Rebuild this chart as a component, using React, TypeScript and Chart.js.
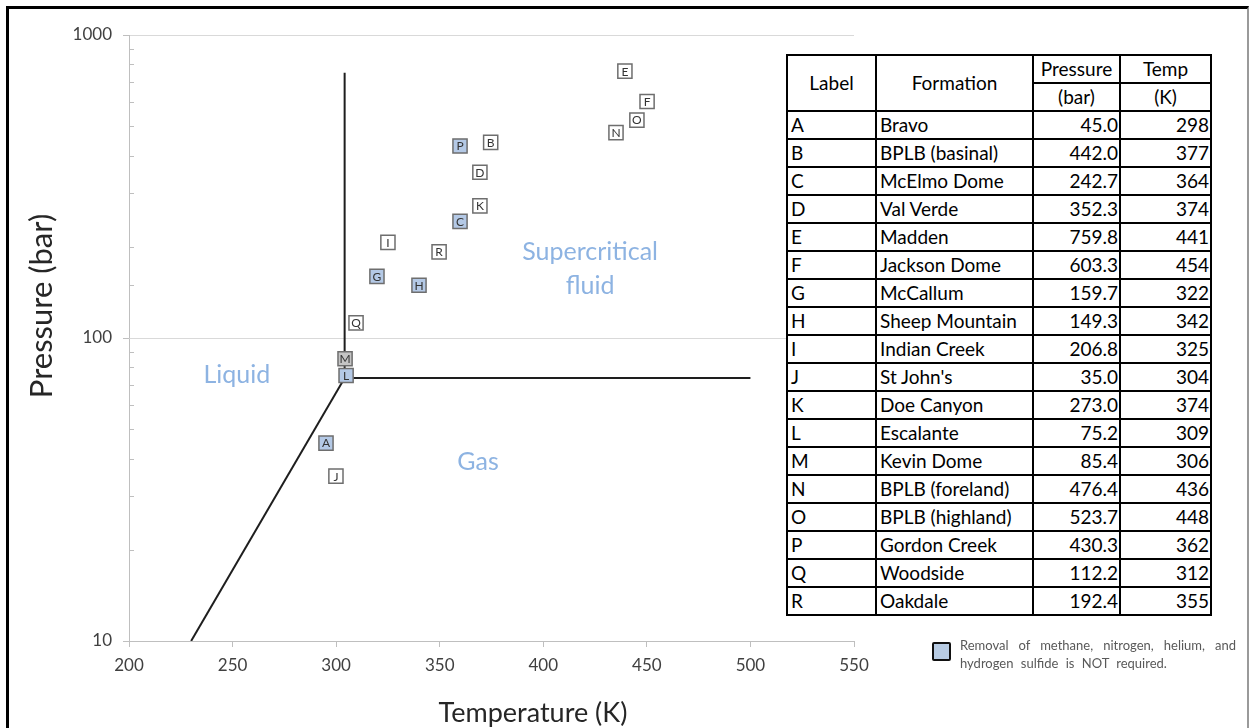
import React, { useEffect, useRef } from "react";
import { Chart, registerables } from "chart.js";

Chart.register(...registerables);

// ---- Data ----
const labels = ["A", "B", "C", "D", "E", "F", "G", "H", "I", "J", "K", "L", "M", "N", "O", "P", "Q", "R"];
const formations = [
  "Bravo", "BPLB (basinal)", "McElmo Dome", "Val Verde", "Madden", "Jackson Dome",
  "McCallum", "Sheep Mountain", "Indian Creek", "St John's", "Doe Canyon", "Escalante",
  "Kevin Dome", "BPLB (foreland)", "BPLB (highland)", "Gordon Creek", "Woodside", "Oakdale",
];
const pressures = [45.0, 442.0, 242.7, 352.3, 759.8, 603.3, 159.7, 149.3, 206.8, 35.0, 273.0, 75.2, 85.4, 476.4, 523.7, 430.3, 112.2, 192.4];
const temps = [298, 377, 364, 374, 441, 454, 322, 342, 325, 304, 374, 309, 306, 436, 448, 362, 312, 355];
// temperatures at which the markers are drawn in the figure
const plottedTemps = [295.1, 374.6, 359.8, 369.4, 439.4, 450.1, 319.7, 340.0, 325.0, 299.9, 369.4, 304.8, 304.3, 435.1, 445.2, 359.8, 309.6, 349.7];
const markerGroup = ["blue", "white", "blue", "white", "white", "white", "blue", "blue", "white", "white", "white", "blue", "gray", "white", "white", "blue", "white", "white"];

const liquidVaporT = [230, 304.1];
const liquidVaporP = [10, 73.8];
const criticalIsothermT = [304.1, 304.1];
const criticalIsothermP = [73.8, 750];
const criticalIsobarT = [304.1, 500];
const criticalIsobarP = [73.8, 73.8];

const regionLabels = ["Liquid", "Gas", "Supercritical", "fluid"];
const regionT = [252.1, 368.5, 422.6, 422.6];
const regionP = [75.5, 39.0, 192.2, 148.5];

const xTicks = [200, 250, 300, 350, 400, 450, 500, 550];
const yTickLabels = [10, 100, 1000];

const FONT = "Lato, 'Open Sans', sans-serif";
const fillColors: Record<string, string> = { blue: "#b4c9e6", white: "#ffffff", gray: "#c4c4c4" };

const isMajor = (v: number) => yTickLabels.includes(Math.round(v * 1000) / 1000);

const overlayPlugin = {
  id: "overlay",
  afterDatasetsDraw(chart: any) {
    const ctx = chart.ctx as CanvasRenderingContext2D;
    const xs = chart.scales.x;
    const ys = chart.scales.y;
    ctx.save();
    // minor ticks (inside)
    ctx.strokeStyle = "#bfbfbf";
    ctx.lineWidth = 1;
    ys.ticks.forEach((t: any) => {
      if (!isMajor(t.value)) {
        const py = Math.round(ys.getPixelForValue(t.value)) + 0.5;
        ctx.beginPath();
        ctx.moveTo(xs.left, py);
        ctx.lineTo(xs.left + 5, py);
        ctx.stroke();
      }
    });
    // region labels
    ctx.fillStyle = "#8db3e2";
    ctx.font = `25px ${FONT}`;
    ctx.textAlign = "center";
    ctx.textBaseline = "middle";
    regionLabels.forEach((s, i) => {
      ctx.fillText(s, xs.getPixelForValue(regionT[i]), ys.getPixelForValue(regionP[i]));
    });
    // marker letters
    const meta = chart.getDatasetMeta(0);
    ctx.fillStyle = "#333333";
    ctx.font = `12px ${FONT}`;
    meta.data.forEach((el: any, i: number) => {
      ctx.fillText(labels[i], el.x, el.y + 0.5);
    });
    // axis titles
    ctx.fillStyle = "#262626";
    ctx.font = `27px ${FONT}`;
    ctx.fillText("Temperature (K)", 533, 713);
    ctx.translate(42, 306);
    ctx.rotate(-Math.PI / 2);
    ctx.font = `31px ${FONT}`;
    ctx.fillText("Pressure (bar)", 0, 0);
    ctx.restore();
  },
};

function ChartCanvas() {
  const ref = useRef<HTMLCanvasElement | null>(null);
  useEffect(() => {
    if (!ref.current) return;
    const lineDs = (xs: number[], ys: number[]) => ({
      type: "scatter" as const,
      data: xs.map((x, i) => ({ x, y: ys[i] })),
      showLine: true,
      borderColor: "#1e1e1e",
      borderWidth: 2,
      pointRadius: 0,
      fill: false,
    });
    const chart = new Chart(ref.current, {
      type: "scatter",
      data: {
        datasets: [
          {
            data: plottedTemps.map((t, i) => ({ x: t, y: pressures[i] })),
            pointStyle: "rect",
            pointRadius: 10,
            backgroundColor: markerGroup.map((g) => fillColors[g]),
            borderColor: "#6e6e6e",
            borderWidth: 1.5,
          } as any,
          lineDs(liquidVaporT, liquidVaporP),
          lineDs(criticalIsothermT, criticalIsothermP),
          lineDs(criticalIsobarT, criticalIsobarP),
        ],
      },
      options: {
        animation: false,
        responsive: false,
        devicePixelRatio: 1,
        layout: { padding: { top: 35, right: 395, left: 0, bottom: 0 } },
        plugins: { legend: { display: false }, tooltip: { enabled: false } },
        scales: {
          x: {
            type: "linear",
            min: 200,
            max: 550,
            afterBuildTicks: (s: any) => {
              s.ticks = xTicks.map((v) => ({ value: v }));
            },
            ticks: { font: { family: FONT, size: 17 }, color: "#404040", padding: 8 },
            grid: { drawOnChartArea: false, tickLength: 6, tickColor: "#bfbfbf" },
            border: { color: "#bfbfbf" },
            afterFit: (s: any) => {
              s.height = 87;
            },
          },
          y: {
            type: "logarithmic",
            min: 10,
            max: 1000,
            ticks: {
              autoSkip: false,
              font: { family: FONT, size: 17 },
              color: "#404040",
              padding: 11,
              callback: (v: any) => (isMajor(Number(v)) ? String(v) : ""),
            },
            grid: {
              tickLength: 6,
              color: (c: any) => (c.tick && isMajor(c.tick.value) ? "#d9d9d9" : "rgba(0,0,0,0)"),
              tickColor: (c: any) => (c.tick && isMajor(c.tick.value) ? "#bfbfbf" : "rgba(0,0,0,0)"),
            },
            border: { color: "#bfbfbf" },
            afterFit: (s: any) => {
              s.width = 129;
            },
          },
        },
      } as any,
      plugins: [overlayPlugin],
    });
    return () => chart.destroy();
  }, []);
  return <canvas ref={ref} width={1249} height={728} style={{ display: "block", position: "absolute", left: 0, top: 0 }} />;
}

const cell: React.CSSProperties = {
  border: "2px solid #000",
  padding: "0 3px",
  height: 26,
  lineHeight: "26px",
  whiteSpace: "nowrap",
  overflow: "hidden",
};

export default function App() {
  return (
    <div style={{ position: "absolute", left: 0, top: 0, width: 1249, height: 728, overflow: "hidden", background: "#fff" }}>
      <ChartCanvas />
      <div
        style={{
          position: "absolute",
          left: 6,
          top: 6,
          width: 1238,
          height: 760,
          borderLeft: "3px solid #000",
          borderTop: "3px solid #000",
          borderRight: "2px solid #9a9a9a",
          pointerEvents: "none",
        }}
      />
      <table
        style={{
          position: "absolute",
          left: 786,
          top: 54,
          borderCollapse: "collapse",
          tableLayout: "fixed",
          width: 424,
          background: "#fff",
          fontFamily: FONT,
          fontSize: 19,
          color: "#000",
          border: "2px solid #000",
        }}
      >
        <colgroup>
          <col style={{ width: 89 }} />
          <col style={{ width: 157 }} />
          <col style={{ width: 87 }} />
          <col style={{ width: 91 }} />
        </colgroup>
        <tbody>
          <tr>
            <td rowSpan={2} style={{ ...cell, textAlign: "center" }}>Label</td>
            <td rowSpan={2} style={{ ...cell, textAlign: "center" }}>Formation</td>
            <td style={{ ...cell, textAlign: "center" }}>Pressure</td>
            <td style={{ ...cell, textAlign: "center" }}>Temp</td>
          </tr>
          <tr>
            <td style={{ ...cell, textAlign: "center" }}>(bar)</td>
            <td style={{ ...cell, textAlign: "center" }}>(K)</td>
          </tr>
          {labels.map((l, i) => (
            <tr key={l}>
              <td style={{ ...cell, textAlign: "left" }}>{l}</td>
              <td style={{ ...cell, textAlign: "left" }}>{formations[i]}</td>
              <td style={{ ...cell, textAlign: "right", paddingRight: 1 }}>{pressures[i].toFixed(1)}</td>
              <td style={{ ...cell, textAlign: "right", paddingRight: 1 }}>{temps[i]}</td>
            </tr>
          ))}
        </tbody>
      </table>
      <div
        style={{
          position: "absolute",
          left: 932,
          top: 642,
          width: 15,
          height: 15,
          border: "2.5px solid #111",
          borderRadius: 2,
          background: "#b8cce4",
        }}
      />
      <div
        style={{
          position: "absolute",
          left: 960,
          top: 636,
          width: 276,
          fontFamily: FONT,
          fontSize: 13,
          lineHeight: "18px",
          color: "#595959",
        }}
      >
        <div style={{ textAlign: "justify", textAlignLast: "justify" as any }}>Removal of methane, nitrogen, helium, and</div>
        <div style={{ wordSpacing: 4 }}>hydrogen sulfide is NOT required.</div>
      </div>
    </div>
  );
}
